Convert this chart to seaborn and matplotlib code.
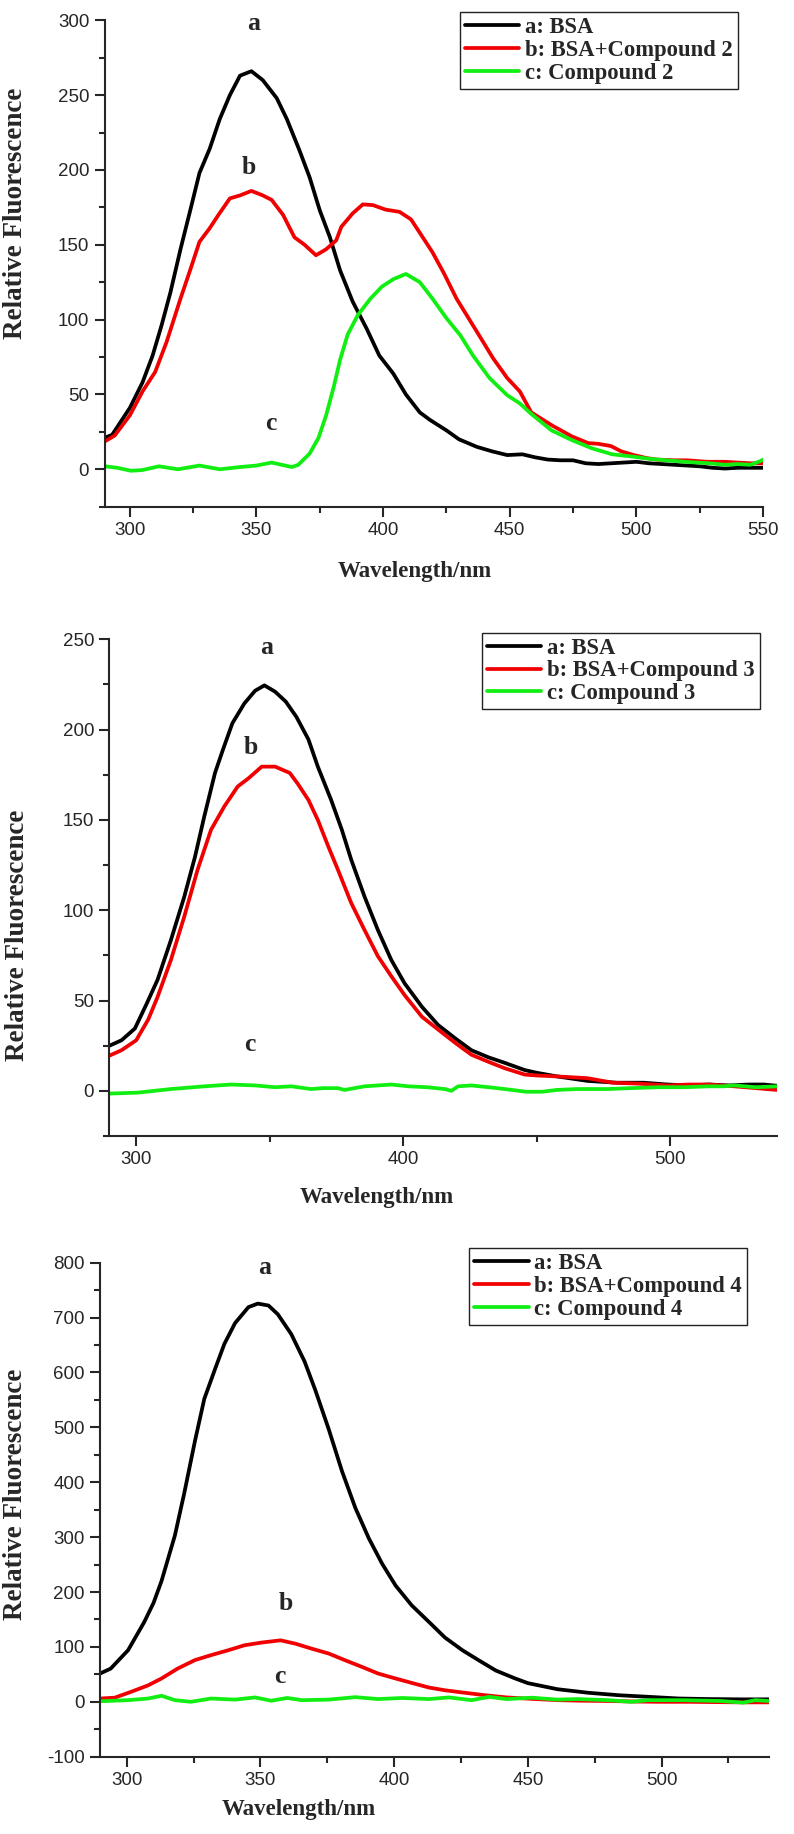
import matplotlib
matplotlib.use("Agg")
import matplotlib.pyplot as plt
from matplotlib.ticker import MultipleLocator
import seaborn as sns

# ---- values ----
# panel 1: Compound 2
p1_bsa_wl = [290, 293, 300, 305, 309, 312.5, 316, 320, 324, 327.5, 331.5, 335.5, 339.5, 343.5, 348,
             352.5, 358, 362, 367, 371, 375, 379, 383, 388, 393.5, 398.5, 404, 409, 414.5, 418.5,
             425, 430, 437, 443, 449, 455, 460, 465, 470, 475, 480, 485, 490, 495, 500, 505, 510,
             515, 520, 525, 530, 535, 540, 545, 550]
p1_bsa = [21, 23, 41, 58, 76, 96, 118, 147, 174, 198, 214, 234, 250, 263, 266,
          260, 248, 234, 213, 195, 173, 155, 133, 112, 94, 76, 64, 50, 38, 33,
          26, 20, 15, 12, 9.5, 10, 8, 6.5, 6, 6, 4, 3.5, 4, 4.5, 5, 4, 3.5,
          3, 2.5, 2, 1, 0.5, 1, 1, 1]
p1_mix_wl = [290, 294, 300, 305, 310, 314.5, 320, 324, 327.5, 331.5, 335, 339.5, 343.5, 348, 352.5,
             356, 360.5, 365, 369, 373.5, 377.5, 381.5, 383.5, 388, 392, 396, 401, 406.5, 411, 414.5,
             419.5, 424, 429, 433, 437, 443.5, 449, 454, 458.5, 466.5, 474.5, 481, 485, 490, 494,
             499, 504, 508, 515, 520, 528, 535, 540, 545, 550]
p1_mix = [18.5, 22.5, 36, 52, 65, 85, 114, 134, 152, 161, 170, 181, 183, 186, 183,
          180, 170, 155, 150, 143, 147, 153, 162, 171, 177, 176.5, 173.5, 172, 167, 158,
          145, 131, 114, 103, 92, 74, 61, 52, 38, 29.5, 22, 17.5, 17, 15.5, 12,
          9.5, 7.5, 6.5, 6, 6, 5, 5, 4.5, 4, 4]
p1_cmp_wl = [290, 295, 300.5, 305, 311.5, 319, 327.5, 335.5, 343.5, 350, 356, 360, 364, 366.5, 371,
             374.5, 377.5, 380.5, 383, 386, 390, 395, 399.5, 404, 409, 414.5, 419.5, 425, 430.5,
             435.5, 442, 449, 454, 458.5, 466.5, 474.5, 482.5, 490.5, 498.5, 505, 512, 519, 529,
             535, 540, 545, 549, 550]
p1_cmp = [2, 1, -1, -0.5, 2, 0, 2.5, 0, 1.5, 2.5, 4.5, 3, 1.5, 3, 10.5,
          21, 36, 55, 73, 90, 103, 114, 122, 127, 130.5, 125, 114, 101, 89.5,
          76, 61, 49.5, 44, 37, 26, 19.5, 14, 10, 8.5, 7, 6, 5, 4,
          3, 3.5, 3, 5.5, 6.5]

# panel 2: Compound 3
p2_bsa_wl = [290, 294.5, 299.5, 304, 308, 313, 318, 322, 325.5, 329.5, 332.5, 336, 340.5, 344.5, 348,
             352, 356, 360, 364.5, 368, 373, 377, 380.5, 385.5, 390.5, 395.5, 400.5, 407, 413,
             419.5, 425.5, 432, 438, 445.5, 450, 457.5, 469, 480, 490, 499, 507, 514.5, 522,
             529.5, 535, 540]
p2_bsa = [25, 28, 34.5, 48.5, 61.5, 83.5, 107.5, 129.5, 152, 176, 189, 203.5, 214.5, 221.5, 224.5,
          221, 215.5, 207, 194.5, 179.5, 161, 144.5, 128, 107.5, 89, 72.5, 59.5, 46.5, 36.5,
          29, 22.5, 18.5, 15.5, 11.5, 10, 8, 5.5, 4.5, 4.5, 3.5, 3, 3.5, 3,
          3.5, 3.5, 2.8]
p2_mix_wl = [290, 294.5, 300, 304.5, 308, 313, 318, 323, 328, 333, 338, 342, 347, 352, 357.5,
             360.5, 364.5, 368, 372, 375.5, 380.5, 385.5, 390.5, 395.5, 400.5, 407, 413, 419.5,
             425.5, 432, 438, 445.5, 450, 457.5, 469, 478.5, 488, 499, 507, 514.5, 524, 532, 540]
p2_mix = [19.5, 22.5, 28, 39.5, 52, 72.5, 96.5, 122.5, 144.5, 157.5, 168.5, 173, 179.5, 179.5, 176,
          170, 161, 150, 135, 122.5, 104, 89, 74.5, 63.5, 53, 41, 34, 26.5,
          20, 16, 12.5, 9, 8.5, 8, 7, 4.5, 4, 3, 3.5, 3.5, 2.5, 1.5, 0.5]
p2_cmp_wl = [290, 300.5, 313, 325.5, 335.5, 344.5, 352, 358, 365.5, 370, 375.5, 378, 385.5, 395.5,
             402, 409, 415.5, 418, 420.5, 425.5, 432, 438, 446, 452, 457.5, 465, 476.5, 485,
             495.5, 505, 514.5, 520, 524, 532, 540]
p2_cmp = [-1.5, -1, 1, 2.5, 3.5, 3, 2, 2.5, 1, 1.5, 1.5, 0.5, 2.5, 3.5,
          2.5, 2, 1, 0, 2.5, 3, 2, 1, -0.5, -0.5, 0.5, 1, 1, 1.5,
          2, 2, 2.5, 2.5, 3, 2, 2.5]

# panel 3: Compound 4
p3_bsa_wl = [290, 294, 300.5, 306.5, 310, 313, 318, 321.5, 325.5, 329, 333, 336.5, 340.5, 345.5, 349,
             353, 356.5, 361.5, 366.5, 370.5, 375.5, 380.5, 385.5, 390.5, 395.5, 400.5, 406.5, 413,
             419, 425.5, 431.5, 438, 445, 450, 461, 472.5, 484, 495.5, 506.5, 518, 529.5, 540]
p3_bsa = [51.5, 60.5, 94, 145, 180, 220, 303, 380, 475, 552, 606, 652, 690, 719, 725.5,
          722, 706, 670, 620, 568, 497, 420, 353, 298, 251.5, 212, 176, 145.5,
          117, 94, 76, 57, 43, 34, 23, 16.5, 12, 9, 6, 5, 4.5, 4.5]
p3_mix_wl = [290, 295.5, 301.5, 308, 313, 319, 325.5, 331.5, 338, 344, 350.5, 357.5, 363, 369, 375.5,
             381.5, 388, 394, 400.5, 406.5, 413, 419, 425.5, 434, 442, 451, 461, 470, 480, 490,
             499, 510, 520, 530, 540]
p3_mix = [6, 7.5, 18, 30, 42.5, 60.5, 76, 85, 94, 103, 108, 112, 106, 97, 88,
          76, 63.5, 51.5, 42.5, 34.5, 26, 21, 17, 12, 8, 5.5, 3, 2, 1.5, 0.5,
          0, 0, -0.5, -1, -1]
p3_cmp_wl = [290, 300.5, 308, 313, 318, 324, 331.5, 340.5, 348, 354, 360, 365.5, 375.5, 385.5, 394,
             403, 413, 420.5, 429, 435.5, 442, 451.5, 461, 468.5, 480, 488.5, 495, 508.5, 522,
             530.5, 535, 540]
p3_cmp = [1, 3, 6, 11, 3, 0, 6, 4, 8, 2, 7, 3, 4, 8.5, 5,
          7, 5, 8, 3, 9, 5, 7.5, 4, 5, 3, 0, 3, 3, 1.5,
          -1.5, 3, 1.5]

compounds = ["Compound 2", "Compound 3", "Compound 4"]
line_colors = ["#000000", "#f00000", "#11ee11"]

# ---- style ----
sns.set_style("ticks")
plt.rcParams['font.family'] = ['Liberation Sans', 'DejaVu Sans']
plt.rcParams['axes.unicode_minus'] = False
serif = dict(family=['Liberation Serif', 'DejaVu Serif'], weight='bold')

W, H = 794, 1834
fig = plt.figure(figsize=(W / 100, H / 100), dpi=100)


def fig_xy(x, y):
    # pixel position -> figure fraction
    return x / W, 1 - y / H


panels = [
    dict(rect=(104.5, 20.3, 763, 506.7), xlim=(290, 550), ylim=(-25, 300), xmaj=50, ymaj=50,
         data=[(p1_bsa_wl, p1_bsa), (p1_mix_wl, p1_mix), (p1_cmp_wl, p1_cmp)],
         legend=(737.7, 12.3), xlab=(415, 571.7), ylab=(16, 213),
         notes=[(349, 298, "a"), (347, 201.7, "b"), (355.5, 30.7, "c")]),
    dict(rect=(109.5, 639.3, 777.2, 1136), xlim=(290, 540), ylim=(-25, 250), xmaj=100, ymaj=50,
         data=[(p2_bsa_wl, p2_bsa), (p2_mix_wl, p2_mix), (p2_cmp_wl, p2_cmp)],
         legend=(759.5, 632.7), xlab=(377, 1198), ylab=(18, 935),
         notes=[(349, 245.5, "a"), (343, 190, "b"), (342.5, 25.5, "c")]),
    dict(rect=(100, 1262.7, 768.6, 1756.7), xlim=(290, 540), ylim=(-100, 800), xmaj=50, ymaj=100,
         data=[(p3_bsa_wl, p3_bsa), (p3_mix_wl, p3_mix), (p3_cmp_wl, p3_cmp)],
         legend=(746.8, 1248.3), xlab=(299, 1810), ylab=(16, 1494),
         notes=[(351.4, 791, "a"), (359.5, 180, "b"), (357.3, 45.5, "c")]),
]

for p, comp in zip(panels, compounds):
    l, t, r, b = p["rect"]
    ax = fig.add_axes([l / W, 1 - b / H, (r - l) / W, (b - t) / H])
    labels = ["a: BSA", "b: BSA+" + comp, "c: " + comp]
    for (wl, vals), lab, col in zip(p["data"], labels, line_colors):
        sns.lineplot(x=wl, y=vals, ax=ax, color=col, linewidth=2.7, label=lab)

    ax.set_xlim(*p["xlim"])
    ax.set_ylim(*p["ylim"])
    ax.xaxis.set_major_locator(MultipleLocator(p["xmaj"]))
    ax.xaxis.set_minor_locator(MultipleLocator(p["xmaj"] / 2))
    ax.yaxis.set_major_locator(MultipleLocator(p["ymaj"]))
    ax.yaxis.set_minor_locator(MultipleLocator(p["ymaj"] / 2))
    sns.despine(ax=ax)
    for s in ("left", "bottom"):
        ax.spines[s].set_linewidth(1.5)
    ax.tick_params(which="major", direction="out", length=7, width=1.5, labelsize=13.5, pad=4)
    ax.tick_params(which="minor", direction="out", length=4, width=1.5)

    ax.set_xlabel("Wavelength/nm", fontsize=16.5, **serif)
    ax.xaxis.set_label_coords(*fig_xy(*p["xlab"]), transform=fig.transFigure)
    ax.xaxis.label.set_verticalalignment("center")
    ax.set_ylabel("Relative Fluorescence", fontsize=19.5, **serif)
    ax.yaxis.set_label_coords(*fig_xy(*p["ylab"]), transform=fig.transFigure)
    ax.yaxis.label.set_verticalalignment("center")

    for x, y, s in p["notes"]:
        ax.text(x, y, s, ha="center", va="center", fontsize=18.5, **serif)

    leg = ax.legend(loc="upper right", bbox_to_anchor=fig_xy(*p["legend"]),
                    bbox_transform=fig.transFigure, borderaxespad=0,
                    prop=dict(family="Liberation Serif", weight="bold", size=16.3),
                    frameon=True, fancybox=False, framealpha=1, edgecolor="#222222",
                    borderpad=0.22, labelspacing=0.08, handlelength=2.4, handletextpad=0.25)
    leg.get_frame().set_linewidth(1.0)

fig.savefig("out.png", dpi=100)
